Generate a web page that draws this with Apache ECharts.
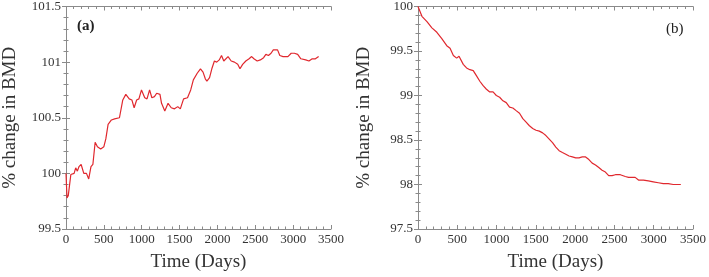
<!DOCTYPE html>
<html>
<head>
    <meta charset="utf-8">
    <title></title>
    <script src="https://cdn.jsdelivr.net/npm/echarts@6/dist/echarts.min.js"></script>
    <style>
        html, body{
            margin: 0;
            padding: 0;
            background: #fff;
        }
        #main{
            width: 709px;
            height: 277px;
        }
    </style>
</head>
<body>
<div id="main"></div>
<script type="text/javascript">
    // panel (a): BMD rises
    var daysA = [0, 13, 30, 64, 86, 107, 128, 150, 171, 200, 235, 270, 300, 330, 355, 385, 415, 458, 500, 526,
        556, 600, 642, 706, 750, 790, 835, 870, 900, 933, 963, 997, 1040, 1070, 1104, 1134, 1168, 1198, 1241, 1262,
        1305, 1348, 1390, 1433, 1476, 1510, 1553, 1605, 1647, 1682, 1733, 1776, 1810, 1840, 1861, 1896, 1926, 1960, 1990, 2024,
        2054, 2084, 2110, 2140, 2182, 2225, 2268, 2298, 2333, 2375, 2418, 2452, 2482, 2525, 2567, 2610, 2640, 2674, 2708, 2738,
        2794, 2824, 2867, 2931, 2974, 3017, 3060, 3102, 3166, 3209, 3252, 3294, 3337];
    var bmdA = [100.0, 99.78, 99.8, 99.99, 100.0, 100.0, 100.05, 100.02, 100.06, 100.08, 100.0, 100.0, 99.95, 100.06, 100.08, 100.28, 100.24, 100.22, 100.24, 100.31,
        100.44, 100.48, 100.49, 100.5, 100.66, 100.71, 100.67, 100.66, 100.59, 100.66, 100.67, 100.75, 100.68, 100.67, 100.75, 100.68, 100.69, 100.72, 100.71, 100.63,
        100.56, 100.63, 100.59, 100.58, 100.6, 100.58, 100.67, 100.68, 100.75, 100.84, 100.9, 100.94, 100.91, 100.85, 100.83, 100.86, 100.94, 101.01, 101.0, 101.02,
        101.06, 101.01, 101.02, 101.05, 101.01, 101.0, 100.98, 100.94, 100.98, 101.01, 101.03, 101.05, 101.03, 101.01, 101.02, 101.04, 101.07, 101.06, 101.08, 101.11,
        101.11, 101.06, 101.05, 101.05, 101.08, 101.08, 101.07, 101.03, 101.02, 101.01, 101.03, 101.03, 101.05];

    // panel (b): BMD falls
    var daysB = [0, 50, 114, 177, 240, 303, 366, 408, 450, 471, 492, 522, 547, 576, 618, 660, 703, 745, 787, 829,
        871, 913, 955, 997, 1039, 1081, 1123, 1165, 1207, 1249, 1292, 1334, 1376, 1418, 1460, 1502, 1544, 1586, 1628, 1670,
        1712, 1754, 1796, 1838, 1881, 1923, 1965, 2007, 2049, 2091, 2133, 2175, 2217, 2259, 2301, 2343, 2385, 2427, 2470, 2512,
        2575, 2638, 2680, 2722, 2764, 2806, 2869, 2932, 2995, 3059, 3122, 3185, 3248, 3311, 3345];
    var bmdB = [100.0, 99.89, 99.83, 99.76, 99.71, 99.64, 99.56, 99.53, 99.45, 99.43, 99.42, 99.44, 99.42, 99.35, 99.31, 99.29, 99.28, 99.22, 99.16, 99.11,
        99.07, 99.04, 99.04, 99.0, 98.98, 98.94, 98.92, 98.87, 98.86, 98.83, 98.8, 98.74, 98.7, 98.66, 98.63, 98.61, 98.6, 98.58, 98.55, 98.51,
        98.47, 98.42, 98.38, 98.36, 98.34, 98.32, 98.31, 98.3, 98.3, 98.31, 98.31, 98.28, 98.24, 98.22, 98.19, 98.16, 98.14, 98.1, 98.1, 98.11,
        98.11, 98.09, 98.08, 98.08, 98.08, 98.05, 98.05, 98.04, 98.03, 98.02, 98.01, 98.01, 98.0, 98.0, 98.0];

    var serif = 'Liberation Serif';
    var axisGray = '#8a8a8a';
    var lineRed = '#e0282e';

    function pairs(xs, ys) {
        var out = [];
        for (var i = 0; i < xs.length; i++) out.push([xs[i], ys[i]]);
        return out;
    }

    // one x axis (bottom with labels, top as plain frame)
    function xAx(grid, pos, labels) {
        return {
            type: 'value', gridIndex: grid, position: pos,
            min: 0, max: 3500, interval: 500,
            name: labels ? 'Time (Days)' : '',
            nameLocation: 'middle', nameGap: 24,
            nameTextStyle: {fontFamily: serif, fontSize: 19, color: '#333'},
            axisLine: {show: true, lineStyle: {color: axisGray, width: 1}},
            axisTick: {show: true, inside: true, length: 4, lineStyle: {color: axisGray}},
            minorTick: {show: true, splitNumber: 5, length: 2.5, lineStyle: {color: axisGray}},
            axisLabel: {
                show: labels, fontFamily: serif, fontSize: 13, color: '#333', margin: 4,
                formatter: function (v) { return String(v); }
            },
            splitLine: {show: false}
        };
    }

    function yAx(grid, pos, labels, lo, hi, gap) {
        return {
            type: 'value', gridIndex: grid, position: pos,
            min: lo, max: hi, interval: 0.5,
            name: labels ? '% change in BMD' : '',
            nameLocation: 'middle', nameGap: gap,
            nameTextStyle: {fontFamily: serif, fontSize: 19, color: '#333'},
            axisLine: {show: true, lineStyle: {color: axisGray, width: 1}},
            axisTick: {show: true, inside: true, length: 4, lineStyle: {color: axisGray}},
            minorTick: {show: true, splitNumber: 5, length: 2.5, lineStyle: {color: axisGray}},
            axisLabel: {
                show: labels, fontFamily: serif, fontSize: 13, color: '#333', margin: 5,
                formatter: function (v) { return String(v); }
            },
            splitLine: {show: false}
        };
    }

    var myChart = echarts.init(document.getElementById('main'), null, {renderer: 'canvas'});
    var option = {
        animation: false,
        backgroundColor: '#fff',
        title: [{
            text: '(a)', left: 72, top: 14,
            textStyle: {fontFamily: serif, fontSize: 15, fontWeight: 'bold', color: '#222'}
        }, {
            text: '(b)', left: 661, top: 17,
            textStyle: {fontFamily: serif, fontSize: 15, fontWeight: 'normal', color: '#222'}
        }],
        grid: [
            {left: 58, top: 5, width: 273, height: 227},
            {left: 418, top: 5, width: 277, height: 228}
        ],
        xAxis: [
            xAx(0, 'bottom', true), xAx(0, 'top', false),
            xAx(1, 'bottom', true), xAx(1, 'top', false)
        ],
        yAxis: [
            yAx(0, 'left', true, 99.5, 101.5, 46), yAx(0, 'right', false, 99.5, 101.5, 0),
            yAx(1, 'left', true, 97.5, 100, 44), yAx(1, 'right', false, 97.5, 100, 0)
        ],
        series: [{
            type: 'line', xAxisIndex: 0, yAxisIndex: 0,
            data: pairs(daysA, bmdA), showSymbol: false,
            lineStyle: {color: lineRed, width: 1.2}
        }, {
            type: 'line', xAxisIndex: 2, yAxisIndex: 2,
            data: pairs(daysB, bmdB), showSymbol: false,
            lineStyle: {color: lineRed, width: 1.2}
        }]
    };
    myChart.setOption(option);
</script>
</body>
</html>
